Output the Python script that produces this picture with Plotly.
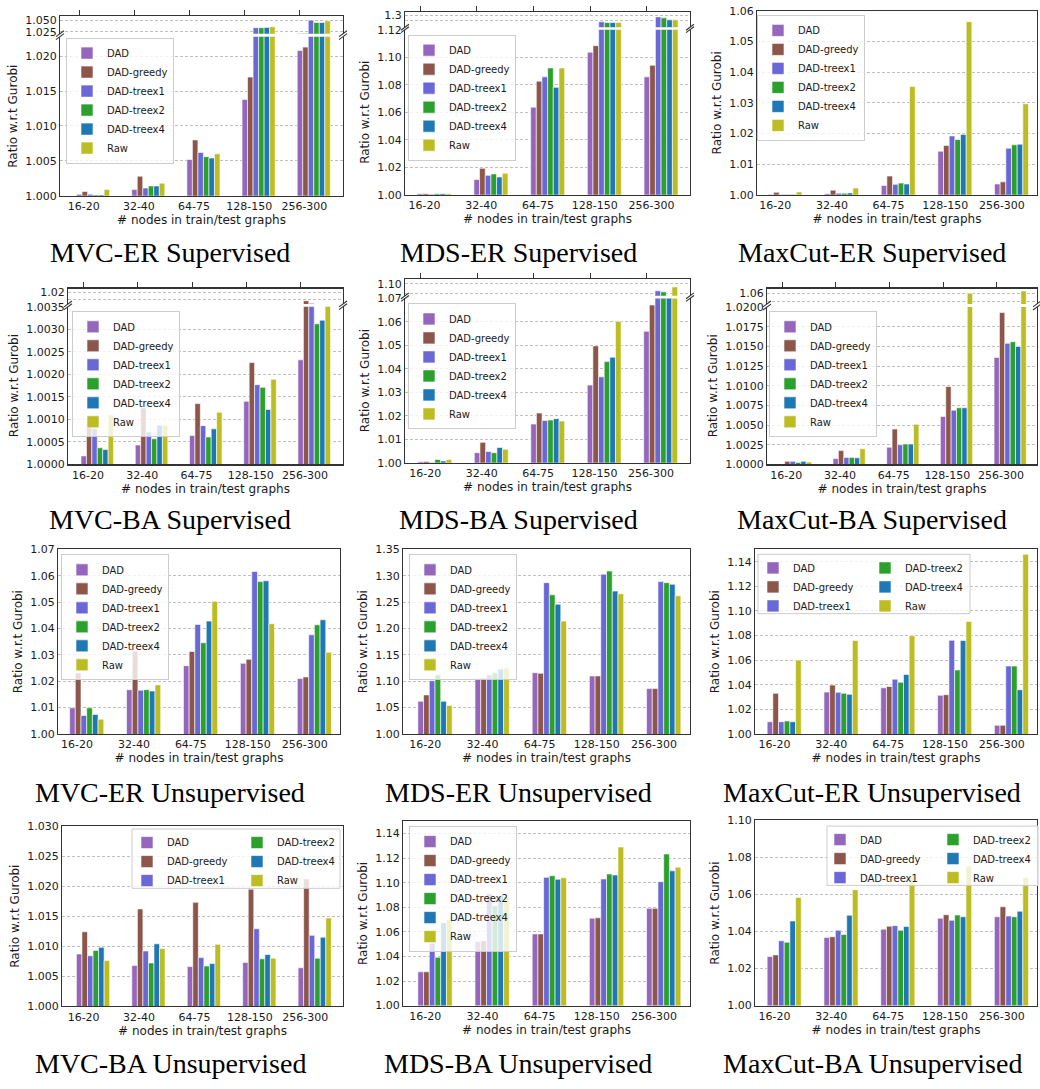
import plotly.graph_objects as go

W, H = 1040, 1089

categories = ["16-20", "32-40", "64-75", "128-150", "256-300"]
series_names = ["DAD", "DAD-greedy", "DAD-treex1", "DAD-treex2", "DAD-treex4", "Raw"]
series_colors = ["#9467bd", "#8c564b", "#6a67d6", "#2ca02c", "#1f77b4", "#bcbd22"]
y_title = "Ratio w.r.t Gurobi"
x_title = "# nodes in train/test graphs"

# ---- values: one row per series (order of series_names), one column per category ----
mvc_er_sup = [
    [1.0002, 1.0009, 1.0052, 1.0138, 1.0208],
    [1.0006, 1.0028, 1.0080, 1.0170, 1.0213],
    [1.0002, 1.0011, 1.0062, 1.0336, 1.0500],
    [1.0001, 1.0014, 1.0056, 1.0336, 1.0450],
    [1.0001, 1.0014, 1.0054, 1.0342, 1.0450],
    [1.0009, 1.0018, 1.0060, 1.0357, 1.0486],
]
mds_er_sup = [
    [1.0007, 1.0110, 1.0637, 1.1036, 1.0857],
    [1.0007, 1.0192, 1.0826, 1.1084, 1.0941],
    [1.0003, 1.0141, 1.0857, 1.2765, 1.2940],
    [1.0007, 1.0151, 1.0922, 1.2740, 1.2905],
    [1.0007, 1.0129, 1.0781, 1.2740, 1.2835],
    [1.0007, 1.0156, 1.0922, 1.2740, 1.2835],
]
maxcut_er_sup = [
    [1.0001, 1.0003, 1.0030, 1.0142, 1.0035],
    [1.0008, 1.0015, 1.0061, 1.0161, 1.0042],
    [1.0001, 1.0005, 1.0034, 1.0192, 1.0152],
    [1.0001, 1.0005, 1.0038, 1.0180, 1.0163],
    [1.0001, 1.0006, 1.0035, 1.0197, 1.0165],
    [1.0009, 1.0022, 1.0353, 1.0565, 1.0297],
]
mvc_ba_sup = [
    [1.00019, 1.00043, 1.00064, 1.00140, 1.00232],
    [1.00090, 1.00125, 1.00135, 1.00226, 1.00810],
    [1.00080, 1.00072, 1.00086, 1.00177, 1.00430],
    [1.00037, 1.00057, 1.00061, 1.00171, 1.00312],
    [1.00033, 1.00087, 1.00079, 1.00122, 1.00320],
    [1.00110, 1.00087, 1.00116, 1.00189, 1.00352],
]
mds_ba_sup = [
    [1.0004, 1.0043, 1.0165, 1.0331, 1.0560],
    [1.0006, 1.0087, 1.0212, 1.0498, 1.0672],
    [1.0001, 1.0048, 1.0180, 1.0366, 1.0850],
    [1.0014, 1.0043, 1.0182, 1.0431, 1.0829],
    [1.0008, 1.0065, 1.0188, 1.0450, 1.0705],
    [1.0014, 1.0058, 1.0178, 1.0603, 1.0932],
]
maxcut_ba_sup = [
    [1.00004, 1.00075, 1.0022, 1.0061, 1.0136],
    [1.0004, 1.00176, 1.0045, 1.0099, 1.0193],
    [1.0004, 1.0009, 1.0025, 1.0069, 1.0154],
    [1.00025, 1.0009, 1.0026, 1.0072, 1.0156],
    [1.0004, 1.00085, 1.0026, 1.0072, 1.0150],
    [1.0003, 1.0020, 1.0051, 1.0600, 1.0657],
]
mvc_er_unsup = [
    [1.0099, 1.0168, 1.0259, 1.0268, 1.0210],
    [1.0231, 1.0314, 1.0313, 1.0283, 1.0216],
    [1.0070, 1.0166, 1.0415, 1.0616, 1.0376],
    [1.0099, 1.0168, 1.0346, 1.0578, 1.0414],
    [1.0074, 1.0163, 1.0428, 1.0581, 1.0433],
    [1.0056, 1.0186, 1.0503, 1.0418, 1.0310],
]
mds_er_unsup = [
    [1.062, 1.105, 1.116, 1.110, 1.086],
    [1.074, 1.106, 1.115, 1.110, 1.086],
    [1.101, 1.112, 1.287, 1.303, 1.289],
    [1.112, 1.116, 1.264, 1.309, 1.287],
    [1.062, 1.123, 1.246, 1.271, 1.284],
    [1.054, 1.125, 1.214, 1.266, 1.262],
]
maxcut_er_unsup = [
    [1.0099, 1.0340, 1.0375, 1.0314, 1.0070],
    [1.0330, 1.0397, 1.0386, 1.0319, 1.0070],
    [1.0099, 1.0338, 1.0445, 1.0761, 1.0552],
    [1.0105, 1.0330, 1.0420, 1.0520, 1.0552],
    [1.0099, 1.0322, 1.0483, 1.0759, 1.0359],
    [1.0600, 1.0759, 1.0799, 1.0914, 1.1460],
]
mvc_ba_unsup = [
    [1.0087, 1.0068, 1.0066, 1.0073, 1.0064],
    [1.0124, 1.0162, 1.0173, 1.0195, 1.0212],
    [1.0084, 1.0092, 1.0081, 1.0129, 1.0118],
    [1.0093, 1.0072, 1.0067, 1.0079, 1.0080],
    [1.0098, 1.0104, 1.0071, 1.0086, 1.0115],
    [1.0076, 1.0096, 1.0103, 1.0080, 1.0147],
]
mds_ba_unsup = [
    [1.0275, 1.0521, 1.0583, 1.0711, 1.0791],
    [1.0275, 1.0527, 1.0583, 1.0714, 1.0791],
    [1.0508, 1.0910, 1.1043, 1.1030, 1.1008],
    [1.0393, 1.0813, 1.1056, 1.1070, 1.1233],
    [1.0674, 1.0896, 1.1027, 1.1062, 1.1096],
    [1.0703, 1.0882, 1.1040, 1.1289, 1.1126],
]
maxcut_ba_unsup = [
    [1.0265, 1.0368, 1.0413, 1.0472, 1.0480],
    [1.0274, 1.0372, 1.0429, 1.0491, 1.0534],
    [1.0350, 1.0407, 1.0432, 1.0461, 1.0484],
    [1.0342, 1.0384, 1.0407, 1.0489, 1.0480],
    [1.0457, 1.0488, 1.0427, 1.0480, 1.0510],
    [1.0584, 1.0626, 1.0701, 1.0754, 1.0692],
]

# ---- y tick values ----
yt_mvc_er_sup = [1.000, 1.005, 1.010, 1.015, 1.020]
yt_mvc_er_sup_up = [1.025, 1.050]
yl_mvc_er_sup_up = ["1.025", "1.050"]
yt_mds_er_sup = [1.00, 1.02, 1.04, 1.06, 1.08, 1.10, 1.12]
yt_mds_er_sup_up = [1.28, 1.30]
yl_mds_er_sup_up = ["", "1.3"]
yt_maxcut_er_sup = [1.00, 1.01, 1.02, 1.03, 1.04, 1.05, 1.06]
yt_mvc_ba_sup = [1.0000, 1.0005, 1.0010, 1.0015, 1.0020, 1.0025, 1.0030, 1.0035]
yt_mvc_ba_sup_up = [1.01, 1.02]
yl_mvc_ba_sup_up = ["", "1.02"]
yt_mds_ba_sup = [1.00, 1.01, 1.02, 1.03, 1.04, 1.05, 1.06, 1.07]
yt_mds_ba_sup_up = [1.08, 1.10]
yl_mds_ba_sup_up = ["", "1.10"]
yt_maxcut_ba_sup = [1.0000, 1.0025, 1.0050, 1.0075, 1.0100, 1.0125, 1.0150, 1.0175, 1.0200]
yt_maxcut_ba_sup_up = [1.04, 1.06]
yl_maxcut_ba_sup_up = ["", "1.06"]
yt_mvc_er_unsup = [1.00, 1.01, 1.02, 1.03, 1.04, 1.05, 1.06, 1.07]
yt_mds_er_unsup = [1.00, 1.05, 1.10, 1.15, 1.20, 1.25, 1.30, 1.35]
yt_maxcut_er_unsup = [1.00, 1.02, 1.04, 1.06, 1.08, 1.10, 1.12, 1.14]
yt_mvc_ba_unsup = [1.000, 1.005, 1.010, 1.015, 1.020, 1.025, 1.030]
yt_mds_ba_unsup = [1.00, 1.02, 1.04, 1.06, 1.08, 1.10, 1.12, 1.14]
yt_maxcut_ba_unsup = [1.00, 1.02, 1.04, 1.06, 1.08, 1.10]

# ---- styling / geometry ----
SANS = "DejaVu Sans"
SERIF = "Liberation Serif"
TXT = "#1a1a1a"
SPINE = "#333333"
GRID = "#b8b8b8"
BAR_W = 0.1
TICK_SHIFT = 0.08


def fx(px):
    return px / W


def fy(py):
    return 1 - py / H


panels = [
    dict(title="MVC-ER Supervised", data=mvc_er_sup, xpx=(60, 343), xr=(-0.35, 4.78), low=(31, 192),
         lr=(1.0, 1.0228), lt=yt_mvc_er_sup, fmt=".3f", up=(10, 28), ur=(1.0207, 1.0592),
         ut=yt_mvc_er_sup_up, ul=yl_mvc_er_sup_up, leg=(66, 32), cols=1, tpos=(170, 249)),
    dict(title="MDS-ER Supervised", data=mds_er_sup, xpx=(405, 690), xr=(-0.265, 4.76), low=(24, 191),
         lr=(1.0, 1.12), lt=yt_mds_er_sup, fmt=".2f", up=(6, 21.5), ur=(1.2572, 1.3116),
         ut=yt_mds_er_sup_up, ul=yl_mds_er_sup_up, leg=(408, 29), cols=1, tpos=(518, 249)),
    dict(title="MaxCut-ER Supervised", data=maxcut_er_sup, xpx=(757, 1037), xr=(-0.243, 4.70), low=(5, 191),
         lr=(1.0, 1.06), lt=yt_maxcut_er_sup, fmt=".2f", up=None, leg=(757, 9), cols=1, tpos=(872, 249)),
    dict(title="MVC-BA Supervised", data=mvc_ba_sup, xpx=(68, 343), xr=(-0.29, 4.78), low=(304.3, 464),
         lr=(1.0, 1.0035), lt=yt_mvc_ba_sup, fmt=".4f", up=(286, 301.5), ur=(1.0035, 1.0257),
         ut=yt_mvc_ba_sup_up, ul=yl_mvc_ba_sup_up, leg=(72, 309), cols=1, tpos=(170, 520)),
    dict(title="MDS-BA Supervised", data=mds_ba_sup, xpx=(405, 690), xr=(-0.278, 4.77), low=(296, 462.3),
         lr=(1.0, 1.07), lt=yt_mds_ba_sup, fmt=".2f", up=(276.7, 293.3), ur=(1.0746, 1.1089),
         ut=yt_mds_ba_sup_up, ul=yl_mds_ba_sup_up, leg=(408, 301), cols=1, tpos=(518, 520)),
    dict(title="MaxCut-BA Supervised", data=maxcut_ba_sup, xpx=(767, 1037), xr=(-0.28, 4.75), low=(304.7, 464),
         lr=(1.0, 1.02), lt=yt_maxcut_ba_sup, fmt=".4f", up=(286, 301.5), ur=(1.034, 1.0713),
         ut=yt_maxcut_ba_sup_up, ul=yl_maxcut_ba_sup_up, leg=(769, 309), cols=1, tpos=(872, 520)),
    dict(title="MVC-ER Unsupervised", data=mvc_er_unsup, xpx=(58, 340), xr=(-0.254, 4.70), low=(550, 736.7),
         lr=(1.0, 1.07), lt=yt_mvc_er_unsup, fmt=".2f", up=None, leg=(61, 555), cols=1, tpos=(170, 796)),
    dict(title="MDS-ER Unsupervised", data=mds_er_unsup, xpx=(403, 690), xr=(-0.31, 4.71), low=(550, 736.7),
         lr=(1.0, 1.35), lt=yt_mds_er_unsup, fmt=".2f", up=None, leg=(409, 555), cols=1, tpos=(518, 796)),
    dict(title="MaxCut-ER Unsupervised", data=maxcut_er_unsup, xpx=(755, 1037), xr=(-0.264, 4.70),
         low=(550, 736.7), lr=(1.0, 1.15), lt=yt_maxcut_er_unsup, fmt=".2f", up=None,
         leg=(758, 555, 970, 603), legx=(753, 865), cols=2, tpos=(872, 796)),
    dict(title="MVC-BA Unsupervised", data=mvc_ba_unsup, xpx=(62, 343), xr=(-0.31, 4.76), low=(830, 1012.3),
         lr=(1.0, 1.03), lt=yt_mvc_ba_unsup, fmt=".3f", up=None, leg=(132, 833, 340, 882), legx=(127, 237),
         cols=2, tpos=(170, 1070)),
    dict(title="MDS-BA Unsupervised", data=mds_ba_unsup, xpx=(403, 690), xr=(-0.31, 4.71), low=(825, 1011.7),
         lr=(1.0, 1.15), lt=yt_mds_ba_unsup, fmt=".2f", up=None, leg=(409, 830), cols=1, tpos=(518, 1070)),
    dict(title="MaxCut-BA Unsupervised", data=maxcut_ba_unsup, xpx=(755, 1037), xr=(-0.264, 4.70),
         low=(824.3, 1011.7), lr=(1.0, 1.10), lt=yt_maxcut_ba_unsup, fmt=".2f", up=None,
         leg=(827, 830, 1038, 878), legx=(820, 933), cols=2, tpos=(872, 1070)),
]

fig = go.Figure()
layout = {}
shapes = []
annotations = []
counter = {"ax": 0, "leg": 0}


def axname(kind, n):
    return f"{kind}axis" if n == 1 else f"{kind}axis{n}"


def axref(kind, n):
    return kind if n == 1 else f"{kind}{n}"


def new_legend(x_px, y_px, boxed=True):
    counter["leg"] += 1
    n = counter["leg"]
    name = "legend" if n == 1 else f"legend{n}"
    layout[name] = dict(
        x=fx(x_px), y=fy(y_px), xanchor="left", yanchor="top",
        bgcolor="rgba(255,255,255,0.8)" if boxed else "rgba(0,0,0,0)",
        bordercolor="#cccccc", borderwidth=1 if boxed else 0,
        font=dict(size=10, family=SANS, color=TXT), tracegroupgap=0,
        itemclick=False, itemdoubleclick=False,
    )
    return name


def y_axis(dom, rng, tickvals, anchor, fmt=None, ticktext=None, title=False):
    d = dict(
        domain=[fy(dom[1]), fy(dom[0])], range=list(rng), anchor=anchor,
        tickmode="array", tickvals=tickvals, showgrid=True, gridcolor=GRID, griddash="3px,2px",
        gridwidth=0.9, showline=True, mirror=True, linecolor=SPINE, linewidth=1.1, ticks="",
        zeroline=False, tickfont=dict(size=11, family=SANS, color=TXT), fixedrange=True,
    )
    if fmt:
        d["tickformat"] = fmt
    if ticktext is not None:
        d["ticktext"] = ticktext
    if title:
        d["title"] = dict(text=y_title, font=dict(size=12, family=SANS, color=TXT), standoff=5)
    return d


for p in panels:
    x0, x1 = p["xpx"]
    xr = list(p["xr"])
    broken = p["up"] is not None
    counter["ax"] += 1
    n_low = counter["ax"]
    if broken:
        counter["ax"] += 1
        n_up = counter["ax"]

    # legends
    if p["cols"] == 1:
        lx, ly = p["leg"]
        leg_ids = [new_legend(lx, ly)] * 6
    else:
        bx0, by0, bx1, by1 = p["leg"]
        la = new_legend(p["legx"][0], by0 - 1, boxed=False)
        lb = new_legend(p["legx"][1], by0 - 1, boxed=False)
        leg_ids = [la, la, la, lb, lb, lb]
        shapes.append(dict(type="rect", xref="paper", yref="paper", x0=fx(bx0), x1=fx(bx1),
                           y0=fy(by0 + 60), y1=fy(by0), fillcolor="rgba(255,255,255,0.8)",
                           line=dict(color="#cccccc", width=1), layer="above"))

    xs_base = list(range(len(categories)))
    for k, name in enumerate(series_names):
        xs = [i + k * BAR_W for i in xs_base]
        vals = p["data"][k]
        common = dict(x=xs, y=vals, width=BAR_W, name=name,
                      marker=dict(color=series_colors[k], line=dict(color="rgba(255,255,255,0.75)", width=0.8)),
                      hoverinfo="skip")
        fig.add_trace(go.Bar(xaxis=axref("x", n_low), yaxis=axref("y", n_low),
                             legend=leg_ids[k], showlegend=True, **common))
        if broken:
            fig.add_trace(go.Bar(xaxis=axref("x", n_up), yaxis=axref("y", n_up),
                                 showlegend=False, **common))

    tickpos = [i + TICK_SHIFT for i in xs_base]
    layout[axname("x", n_low)] = dict(
        domain=[fx(x0), fx(x1)], range=xr, anchor=axref("y", n_low),
        tickmode="array", tickvals=tickpos, ticktext=categories, ticks="",
        showline=True, mirror=not broken, linecolor=SPINE, linewidth=1.1,
        showgrid=False, zeroline=False, tickfont=dict(size=11, family=SANS, color=TXT), fixedrange=True,
        title=dict(text=x_title, font=dict(size=12, family=SANS, color=TXT), standoff=3),
    )
    layout[axname("y", n_low)] = y_axis(p["low"], p["lr"], p["lt"], axref("x", n_low), fmt=p["fmt"], title=True)

    if broken:
        layout[axname("x", n_up)] = dict(
            domain=[fx(x0), fx(x1)], range=xr, anchor=axref("y", n_up), side="top",
            tickmode="array", tickvals=xs_base, showticklabels=False, ticks="outside", ticklen=5,
            tickwidth=1, tickcolor=SPINE, showline=True, mirror=False, linecolor=SPINE, linewidth=1.1,
            showgrid=False, zeroline=False, fixedrange=True,
        )
        layout[axname("y", n_up)] = y_axis(p["up"], p["ur"], p["ut"], axref("x", n_up), ticktext=p["ul"])
        # break marks
        for xb in (x0, x1):
            for yb in (p["up"][1], p["low"][0]):
                shapes.append(dict(type="line", xref="paper", yref="paper",
                                   x0=fx(xb - 4), y0=fy(yb + 3), x1=fx(xb + 4), y1=fy(yb - 3),
                                   line=dict(color=SPINE, width=1.1), layer="above"))

    tx, ty = p["tpos"]
    annotations.append(dict(text=p["title"], x=fx(tx), y=fy(ty), xref="paper", yref="paper",
                            xanchor="center", yanchor="middle", showarrow=False,
                            font=dict(size=28, family=SERIF, color="black")))

fig.update_layout(
    width=W, height=H, margin=dict(l=0, r=0, t=0, b=0),
    paper_bgcolor="white", plot_bgcolor="white", barmode="overlay",
    font=dict(family=SANS, color=TXT), hovermode=False,
    shapes=shapes, annotations=annotations, **layout,
)

fig.write_html(
    "out.html",
    config={"displayModeBar": False, "staticPlot": True},
    post_script="document.body.style.margin='0px';document.body.style.padding='0px';"
                "document.documentElement.style.overflow='hidden';",
)
